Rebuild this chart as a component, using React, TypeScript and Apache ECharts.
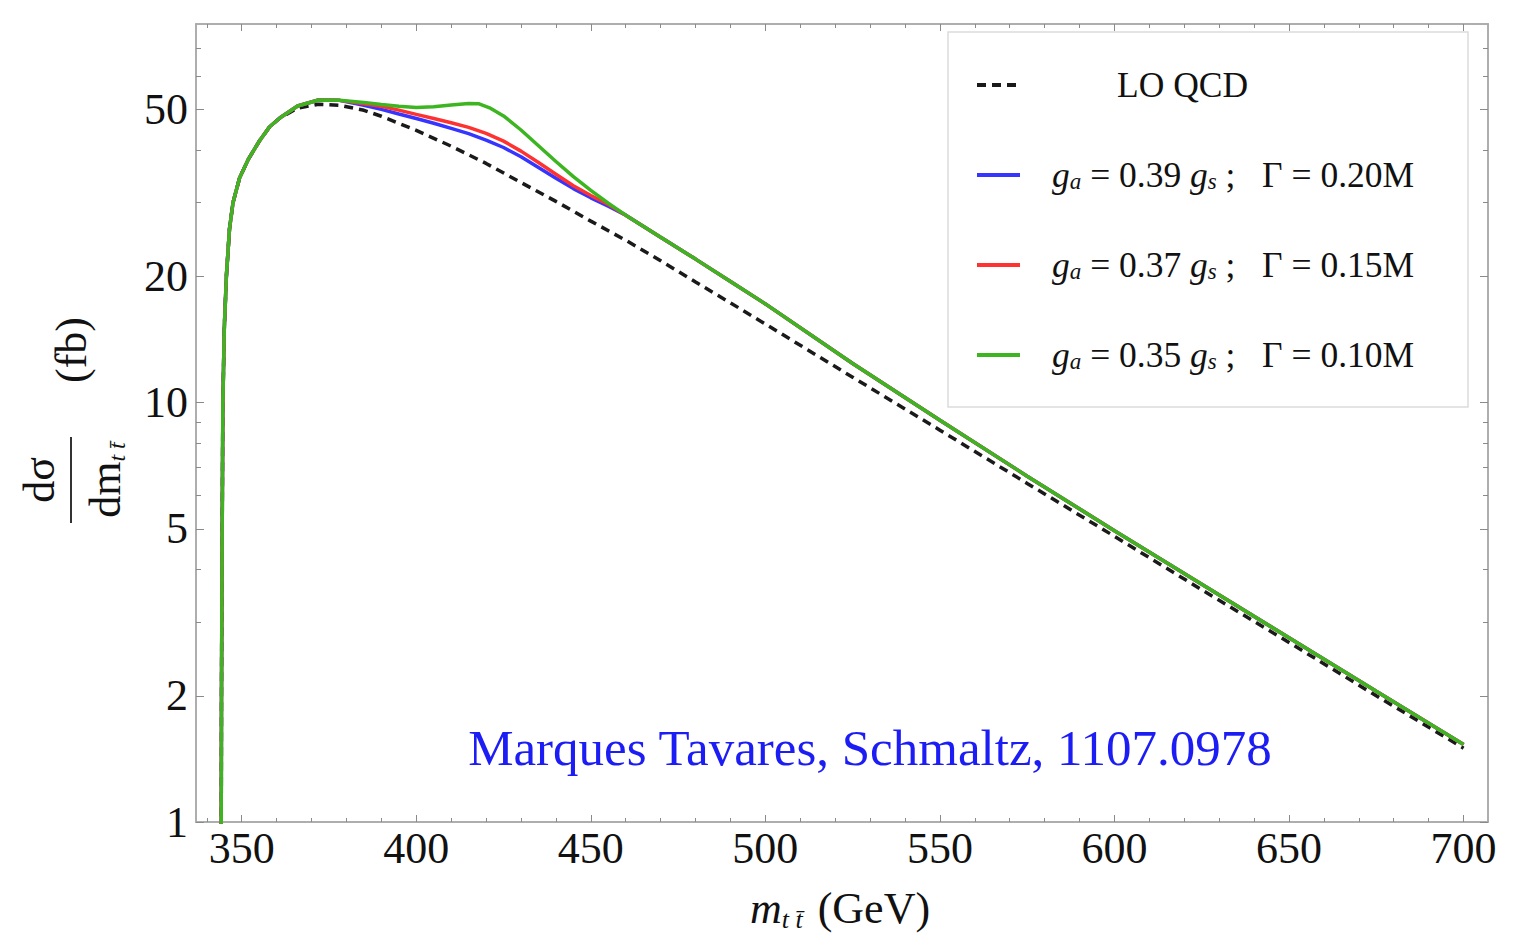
import React, { useEffect, useRef } from 'react';
import * as echarts from 'echarts';

const FONT = '"Liberation Serif", "Times New Roman", serif';

// ---- data ----
// threshold rise, common to every curve
const riseX = [344.0, 344.2, 344.4, 344.6, 345.0, 345.6, 346.5, 347.5, 349.4, 352, 355, 358, 361];
const riseY = [0.3, 2, 5, 10, 15, 20, 26, 30, 34.4, 38.2, 42.0, 45.5, 47.8];

// LO QCD after the rise
const loX = [366, 372, 378, 385, 390, 400, 410, 420, 430, 440, 450, 460, 470, 480, 490, 500, 525, 550, 575, 600, 625, 650, 675, 700];
const loY = [50.4, 51.5, 51.2, 49.8, 48.2, 44.6, 40.9, 37.2, 33.5, 30.2, 27.1, 24.4, 21.8, 19.4, 17.3, 15.4, 11.5, 8.6, 6.42, 4.8, 3.58, 2.68, 2.0, 1.5];

// peak shared by the axigluon curves
const peakX = [366, 372, 378];
const peakY = [51.0, 52.7, 52.6];

// bump region
const bumpX = [385, 390, 395, 400, 405, 410, 415, 420, 425, 430, 435, 440, 445, 450, 455];
const blueY = [51.2, 50.05, 48.8, 47.6, 46.4, 45.1, 43.8, 42.3, 40.6, 38.6, 36.4, 34.3, 32.4, 30.8, 29.4];
const redY = [51.6, 50.9, 49.85, 48.7, 47.6, 46.5, 45.35, 43.9, 42.05, 39.8, 37.4, 35.05, 32.9, 31.2, 29.7];
const greenX = [385, 390, 395, 400, 405, 410, 415, 418, 421, 425, 430, 435, 440, 445, 450, 455];
const greenY = [52.0, 51.4, 50.9, 50.6, 50.8, 51.3, 51.7, 51.6, 50.5, 48.3, 44.7, 41.0, 37.6, 34.6, 32.1, 29.9];

// common tail of the axigluon curves
const tailX = [460, 470, 480, 490, 500, 525, 550, 575, 600, 625, 650, 675, 700];
const tailY = [28.0, 24.8, 22.0, 19.45, 17.2, 12.4, 9.08, 6.68, 4.95, 3.69, 2.75, 2.05, 1.53];

// axes
const X_MIN = 336.9;
const X_MAX = 707;
const Y_MIN = 1;
const Y_MAX = 80;
const xMajor = [350, 400, 450, 500, 550, 600, 650, 700];
const xMinor = [340, 360, 370, 380, 390, 410, 420, 430, 440, 460, 470, 480, 490, 510, 520, 530, 540, 560, 570, 580, 590, 610, 620, 630, 640, 660, 670, 680, 690];
const yMajor = [1, 2, 5, 10, 20, 50];
const yMinor = [3, 4, 6, 7, 8, 9, 30, 40, 60, 70];

const seriesNames = ['LO QCD', 'g_a = 0.39 g_s ; Γ = 0.20M', 'g_a = 0.37 g_s ; Γ = 0.15M', 'g_a = 0.35 g_s ; Γ = 0.10M'];
const legendCoupling = ['0.39', '0.37', '0.35'];
const legendWidth = ['0.20M', '0.15M', '0.10M'];

const pairs = (xs: number[], ys: number[]) => xs.map((x, i) => [x, ys[i]]);

const FRAME = '#a9a9a9';
const TICK = '#8a8a8a';

function xAxisDef(pos: 'top' | 'bottom', ticks: number[], len: number, labels: boolean) {
  return {
    type: 'value',
    min: X_MIN,
    max: X_MAX,
    position: pos,
    axisLine: { show: true, onZero: false, lineStyle: { color: FRAME, width: 1.5 } },
    axisTick: { show: true, inside: true, length: len, customValues: ticks, lineStyle: { color: TICK, width: 1 } },
    axisLabel: labels
      ? { show: true, customValues: ticks, fontFamily: FONT, fontSize: 44, color: '#111', margin: 4 }
      : { show: false },
    splitLine: { show: false },
    minorTick: { show: false },
  };
}

function yAxisDef(pos: 'left' | 'right', ticks: number[], len: number, labels: boolean) {
  return {
    type: 'log',
    logBase: 10,
    min: Y_MIN,
    max: Y_MAX,
    position: pos,
    axisLine: { show: true, onZero: false, lineStyle: { color: FRAME, width: 1.5 } },
    axisTick: { show: true, inside: true, length: len, customValues: ticks, lineStyle: { color: TICK, width: 1 } },
    axisLabel: labels
      ? {
          show: true,
          customValues: ticks,
          fontFamily: FONT,
          fontSize: 44,
          color: '#111',
          margin: 8,
          formatter: (v: number) => String(Math.round(v)),
        }
      : { show: false },
    splitLine: { show: false },
    minorTick: { show: false },
  };
}

const colors = ['#1a1a1a', '#3535ff', '#ff3232', '#3cb521'];

const LFS = 35.5;
const legendRich = {
  i: { fontFamily: FONT, fontStyle: 'italic', fontSize: LFS, color: '#111', lineHeight: 40 },
  sub: { fontFamily: FONT, fontStyle: 'italic', fontSize: 23, color: '#111', lineHeight: 22, verticalAlign: 'bottom', padding: [0, 0, 2, 0] },
  sp: { width: 27, lineHeight: 40 },
  lp: { width: 92, lineHeight: 40 },
};

function legendFormatter(name: string) {
  const idx = seriesNames.indexOf(name);
  if (idx <= 0) return '{lp|}LO QCD';
  return `{sp|}{i|g}{sub|a} = ${legendCoupling[idx - 1]} {i|g}{sub|s} ;   Γ = ${legendWidth[idx - 1]}`;
}

function lineSeries(idx: number, data: number[][], z: number, dashed: boolean) {
  return {
    name: seriesNames[idx],
    type: 'line',
    showSymbol: false,
    symbol: 'none',
    smooth: false,
    data,
    lineStyle: { color: colors[idx], width: 3.5, type: dashed ? [9, 6] : 'solid' },
    itemStyle: { color: colors[idx] },
    z,
  };
}

const option = {
  animation: false,
  backgroundColor: '#ffffff',
  grid: { left: 196, top: 24, width: 1292, height: 798, containLabel: false, outerBoundsMode: 'none' },
  xAxis: [
    xAxisDef('bottom', xMajor, 7, true),
    xAxisDef('bottom', xMinor, 4, false),
    xAxisDef('top', xMajor, 7, false),
    xAxisDef('top', xMinor, 4, false),
  ],
  yAxis: [
    yAxisDef('left', yMajor, 8, true),
    yAxisDef('left', yMinor, 5, false),
    yAxisDef('right', yMajor, 8, false),
    yAxisDef('right', yMinor, 5, false),
  ],
  legend: {
    orient: 'vertical',
    left: 975,
    top: 65,
    itemWidth: 43,
    itemHeight: 14,
    itemGap: 50,
    padding: 0,
    data: seriesNames,
    selectedMode: false,
    formatter: legendFormatter,
    itemStyle: { color: 'rgba(0,0,0,0)', borderWidth: 0, opacity: 0 },
    lineStyle: { width: 4 },
    textStyle: { fontFamily: FONT, fontSize: LFS, color: '#111', lineHeight: 40, rich: legendRich },
  },
  series: [
    lineSeries(0, [...pairs(riseX, riseY), ...pairs(loX, loY)], 2, true),
    lineSeries(1, [...pairs(riseX, riseY), ...pairs(peakX, peakY), ...pairs(bumpX, blueY), ...pairs(tailX, tailY)], 3, false),
    lineSeries(2, [...pairs(riseX, riseY), ...pairs(peakX, peakY), ...pairs(bumpX, redY), ...pairs(tailX, tailY)], 3, false),
    lineSeries(3, [...pairs(riseX, riseY), ...pairs(peakX, peakY), ...pairs(greenX, greenY), ...pairs(tailX, tailY)], 3, false),
  ],
  graphic: [
    {
      type: 'rect',
      z: 1,
      shape: { x: 948, y: 32, width: 520, height: 375 },
      style: { fill: '#ffffff', stroke: '#dcdcdc', lineWidth: 1.5 },
    },
    {
      type: 'text',
      z: 10,
      x: 870,
      y: 748,
      style: {
        text: 'Marques Tavares, Schmaltz, 1107.0978',
        fontFamily: FONT,
        fontSize: 51,
        fill: '#1c1cf5',
        textAlign: 'center',
        textVerticalAlign: 'middle',
      },
    },
    {
      type: 'text',
      z: 10,
      x: 840,
      y: 908,
      style: {
        text: '{m|m}{s|t t\u0304} (GeV)',
        fontFamily: FONT,
        fontSize: 44,
        fill: '#111',
        textAlign: 'center',
        textVerticalAlign: 'middle',
        rich: {
          m: { fontFamily: FONT, fontStyle: 'italic', fontSize: 44, lineHeight: 48 },
          s: { fontFamily: FONT, fontStyle: 'italic', fontSize: 26, lineHeight: 26, verticalAlign: 'bottom', padding: [0, 4, 0, 0] },
        },
      },
    },
    {
      type: 'group',
      x: 71,
      y: 480,
      rotation: Math.PI / 2,
      children: [
        { type: 'line', shape: { x1: -43, y1: 0, x2: 43, y2: 0 }, style: { stroke: '#333', lineWidth: 2 } },
        {
          type: 'text',
          x: 0,
          y: -32,
          style: { text: 'dσ', fontFamily: FONT, fontSize: 44, fill: '#111', textAlign: 'center', textVerticalAlign: 'middle' },
        },
        {
          type: 'text',
          x: 0,
          y: 34,
          style: {
            text: '{a|dm}{s|t t\u0304}',
            fontFamily: FONT,
            fontSize: 44,
            fill: '#111',
            textAlign: 'center',
            textVerticalAlign: 'middle',
            rich: {
              a: { fontFamily: FONT, fontSize: 44, lineHeight: 48 },
              s: { fontFamily: FONT, fontStyle: 'italic', fontSize: 24, lineHeight: 24, verticalAlign: 'bottom' },
            },
          },
        },
        {
          type: 'text',
          x: 130,
          y: 0,
          style: { text: '(fb)', fontFamily: FONT, fontSize: 44, fill: '#111', textAlign: 'center', textVerticalAlign: 'middle' },
        },
      ],
    },
  ],
};

export default function App() {
  const ref = useRef<HTMLDivElement>(null);
  useEffect(() => {
    if (!ref.current) return;
    const chart = echarts.init(ref.current, null, { renderer: 'svg' });
    chart.setOption(option as any);
    return () => chart.dispose();
  }, []);
  return (
    <div
      ref={ref}
      style={{ position: 'absolute', left: 0, top: 0, width: 1520, height: 934, background: '#fff' }}
    />
  );
}
